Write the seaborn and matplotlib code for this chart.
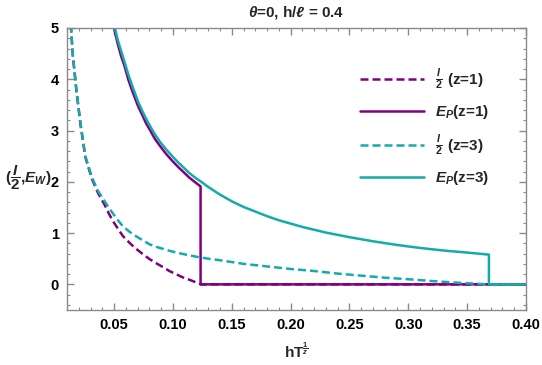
import pandas as pd
import matplotlib
matplotlib.use('Agg')
import matplotlib.pyplot as plt
import seaborn as sns
import numpy as np

# --- data ---
# I/2 (z=1), dashed purple
x_i1 = [0.0125, 0.0134, 0.015, 0.018, 0.0214, 0.0256, 0.0313, 0.0364, 0.042, 0.046, 0.05,
        0.054, 0.0576, 0.064, 0.07, 0.075, 0.0803, 0.086, 0.092, 0.097, 0.103, 0.108,
        0.114, 0.119, 0.1237, 0.40]
y_i1 = [5.3, 5.0, 4.45, 3.78, 3.13, 2.48, 2.05, 1.78, 1.55, 1.36, 1.20,
        1.06, 0.94, 0.79, 0.67, 0.58, 0.49, 0.41, 0.33, 0.26, 0.195, 0.14,
        0.09, 0.045, 0.0, 0.0]

# E_P (z=1), solid purple
x_e1 = [0.049, 0.051, 0.053, 0.056, 0.059, 0.062, 0.065, 0.0703, 0.074, 0.077, 0.081,
        0.0846, 0.089, 0.094, 0.099, 0.1044, 0.109, 0.114, 0.119, 0.1235, 0.1235, 0.40]
y_e1 = [5.10, 4.90, 4.70, 4.45, 4.25, 4.00, 3.80, 3.48, 3.30, 3.15, 2.99,
        2.84, 2.70, 2.55, 2.42, 2.29, 2.19, 2.08, 1.99, 1.91, 0.0, 0.0]

# I/2 (z=3), dashed cyan
x_i3 = [0.0125, 0.0134, 0.015, 0.018, 0.0214, 0.0256, 0.0313, 0.0364, 0.042, 0.046, 0.05,
        0.054, 0.0576, 0.064, 0.07, 0.075, 0.0803, 0.086, 0.092, 0.097, 0.103, 0.113,
        0.1243, 0.14, 0.16, 0.18, 0.20, 0.22, 0.24, 0.26, 0.28, 0.30, 0.32, 0.34,
        0.355, 0.368, 0.40]
y_i3 = [5.3, 5.0, 4.47, 3.80, 3.15, 2.50, 2.08, 1.82, 1.62, 1.48, 1.35,
        1.23, 1.13, 1.01, 0.92, 0.85, 0.78, 0.73, 0.69, 0.655, 0.62, 0.57,
        0.52, 0.47, 0.40, 0.35, 0.30, 0.26, 0.21, 0.17, 0.13, 0.10, 0.065, 0.035,
        0.015, 0.0, 0.0]

# E_P (z=3), solid cyan
x_e3 = [0.0495, 0.051, 0.053, 0.056, 0.059, 0.062, 0.065, 0.0703, 0.074, 0.077, 0.081,
        0.0846, 0.089, 0.094, 0.099, 0.1044, 0.109, 0.114, 0.119, 0.1235, 0.13, 0.14,
        0.15, 0.16, 0.17, 0.18, 0.19, 0.21, 0.23, 0.25, 0.27, 0.29, 0.31, 0.33,
        0.35, 0.3685, 0.3685, 0.40]
y_e3 = [5.15, 4.98, 4.78, 4.55, 4.33, 4.10, 3.90, 3.57, 3.38, 3.24, 3.07,
        2.93, 2.78, 2.64, 2.51, 2.38, 2.28, 2.17, 2.08, 2.01, 1.90, 1.75,
        1.62, 1.51, 1.42, 1.33, 1.25, 1.12, 1.01, 0.92, 0.84, 0.77, 0.71, 0.66,
        0.62, 0.58, 0.0, 0.0]

x_ticks = [0.05, 0.10, 0.15, 0.20, 0.25, 0.30, 0.35, 0.40]
y_ticks = [0, 1, 2, 3, 4, 5]

# --- style ---
sns.set_style('ticks')
plt.rcParams.update({
    'font.family': ['Liberation Sans', 'DejaVu Sans'],
    'font.weight': 'bold',
    'mathtext.fontset': 'custom',
    'mathtext.rm': 'Liberation Sans:bold',
    'mathtext.bf': 'Liberation Sans:bold',
    'mathtext.it': 'Liberation Sans:bold:italic',
    'mathtext.sf': 'Liberation Sans:bold',
})

purple = '#800080'
cyan = '#14abab'
dash = (0, (3.2, 1.6))
lw = 1.8

fig = plt.figure(figsize=(5.42, 3.65), dpi=100)
ax = fig.add_axes([0.1236, 0.1507, 0.8469, 0.7726])

sns.lineplot(x=x_i1, y=y_i1, ax=ax, estimator=None, sort=False, color=purple,
             lw=lw, linestyle=dash, label=r'$\frac{I}{2}$ (z=1)')
sns.lineplot(x=x_e1, y=y_e1, ax=ax, estimator=None, sort=False, color=purple,
             lw=lw, label=r'$E_P$(z=1)')
sns.lineplot(x=x_i3, y=y_i3, ax=ax, estimator=None, sort=False, color=cyan,
             lw=lw, linestyle=dash, label=r'$\frac{I}{2}$ (z=3)')
sns.lineplot(x=x_e3, y=y_e3, ax=ax, estimator=None, sort=False, color=cyan,
             lw=lw, label=r'$E_P$(z=3)')

ax.set_xlim(0.01, 0.40)
ax.set_ylim(-0.5, 5)
ax.set_xticks(x_ticks)
ax.set_xticklabels([f'{t:.2f}' for t in x_ticks])
ax.set_yticks(y_ticks)
ax.set_yticklabels([str(t) for t in y_ticks])
ax.set_xticks(np.arange(0.01, 0.401, 0.01), minor=True)
ax.set_yticks(np.arange(-0.4, 5.01, 0.2), minor=True)

for s in ax.spines.values():
    s.set_color('#8a8a8a')
    s.set_linewidth(1.0)
ax.tick_params(which='both', direction='in', top=True, right=True,
               color='#8a8a8a', labelcolor='black', labelsize=10.5)
ax.tick_params(which='major', length=5, width=1.0, pad=6)
ax.tick_params(which='minor', length=2.5, width=0.8)
for lab in ax.get_xticklabels() + ax.get_yticklabels():
    lab.set_fontweight('bold')

ax.set_title(r'$\theta$=0, h/$\ell$ = 0.4', fontsize=11, fontweight='bold', pad=8)
ax.set_xlabel(r'h$\mathrm{T}^{\frac{1}{z}}$', fontsize=11, fontweight='bold', va='center')
ax.xaxis.set_label_coords(0.5, -0.145)
ax.set_ylabel(r'($\dfrac{I}{2}$,$E_W$)', fontsize=11, fontweight='bold', rotation=0,
              ha='center', va='center')
ax.yaxis.set_label_coords(-0.085, 0.47)

ax.legend(loc='upper right', bbox_to_anchor=(0.95, 0.91), frameon=False, fontsize=11,
          handlelength=4.2, labelspacing=0.75, handletextpad=0.7)

fig.savefig('out.png', dpi=100)
